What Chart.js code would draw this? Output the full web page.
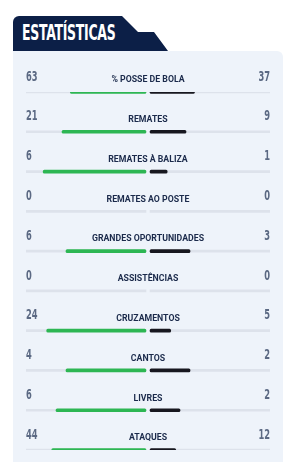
<!DOCTYPE html>
<html lang="pt">
<head>
<meta charset="utf-8">
<title>Estatísticas</title>
<script src="https://cdn.jsdelivr.net/npm/chart.js@4.4.1/dist/chart.umd.min.js"></script>
<style>
  html, body { margin: 0; padding: 0; background: #ffffff; }
  body { width: 289px; height: 462px; position: relative; overflow: hidden; }
  .tab {
    position: absolute; left: 13px; top: 16px; width: 155px; height: 35px;
    background: #0c1f47; border-top-left-radius: 6px;
    clip-path: polygon(0 0, 109px 0, 125px 16px, 141px 16px, 155px 35px, 0 35px);
  }
  .tab span {
    position: absolute; left: 9px; top: 7px;
    color: #ffffff; font-family: "DejaVu Sans Condensed", "DejaVu Sans", sans-serif;
    font-weight: 700; font-size: 21px; letter-spacing: -0.4px; line-height: 1;
    transform-origin: left top; transform: scaleX(0.66); white-space: nowrap;
  }
  .panel {
    position: absolute; left: 13px; top: 51px; width: 270px; height: 411px;
    background: #eef3fa; border-top-right-radius: 6px;
  }
</style>
</head>
<body>
<div class="tab"><span>ESTATÍSTICAS</span></div>
<div class="panel"><canvas id="stats"></canvas></div>
<script>
// dados do jogo
const categories = ['% POSSE DE BOLA', 'REMATES', 'REMATES À BALIZA', 'REMATES AO POSTE',
  'GRANDES OPORTUNIDADES', 'ASSISTÊNCIAS', 'CRUZAMENTOS', 'CANTOS', 'LIVRES', 'ATAQUES'];
const homeValues = [63, 21, 6, 0, 6, 0, 24, 4, 6, 44];
const awayValues = [37, 9, 1, 0, 3, 0, 5, 2, 2, 12];

const GAP = 0.017;
const share = (a, b) => (a + b === 0 ? 0 : a / (a + b));

// barras vazias ficam null para não desenhar nada
const homeBars = homeValues.map((v, i) => v ? [-GAP - share(v, awayValues[i]), -GAP] : null);
const awayBars = awayValues.map((v, i) => v ? [GAP, GAP + share(v, homeValues[i])] : null);

function narrowText(c, txt, x, y, align, sx) {
  c.save();
  c.translate(x, y);
  c.scale(sx, 1);
  c.textAlign = align;
  c.fillText(txt, 0, 0);
  c.restore();
}

// textos por cima de cada linha
const rowLabels = {
  id: 'rowLabels',
  afterDatasetsDraw(chart) {
    const c = chart.ctx;
    const x = chart.scales.x;
    const y = chart.scales.y;
    c.save();
    c.textBaseline = 'middle';
    categories.forEach((cat, i) => {
      const py = y.getPixelForValue(i);
      c.fillStyle = '#5b6983';
      c.font = 'bold 14px "DejaVu Sans Condensed", "DejaVu Sans", sans-serif';
      narrowText(c, String(homeValues[i]), x.getPixelForValue(-1 - GAP), py - 15, 'left', 0.66);
      narrowText(c, String(awayValues[i]), x.getPixelForValue(1 + GAP), py - 15, 'right', 0.66);
      c.fillStyle = '#1b2a4b';
      c.font = 'bold 9.5px Roboto, sans-serif';
      narrowText(c, cat, x.getPixelForValue(0), py - 12, 'center', 0.92);
    });
    c.restore();
  }
};

const ctx = document.getElementById('stats').getContext('2d');
new Chart(ctx, {
  type: 'bar',
  data: {
    labels: categories,
    datasets: [
      { data: homeBars, backgroundColor: '#2db653', barThickness: 3, borderRadius: 2, borderSkipped: false, grouped: false, order: 0 },
      { data: awayBars, backgroundColor: '#17171f', barThickness: 3, borderRadius: 2, borderSkipped: false, grouped: false, order: 0 },
      { data: categories.map(() => [-1 - GAP, -GAP]), backgroundColor: '#dde2eb', barThickness: 2, grouped: false, order: 1 },
      { data: categories.map(() => [GAP, 1 + GAP]), backgroundColor: '#dde2eb', barThickness: 2, grouped: false, order: 1 }
    ]
  },
  options: {
    indexAxis: 'y',
    responsive: true,
    maintainAspectRatio: false,
    animation: false,
    layout: { padding: { left: 13, right: 13, top: 41, bottom: 12 } },
    plugins: { legend: { display: false }, tooltip: { enabled: false } },
    scales: {
      x: { type: 'linear', min: -1 - GAP, max: 1 + GAP, display: false },
      y: { type: 'category', offset: false, display: false }
    }
  },
  plugins: [rowLabels]
});
</script>
</body>
</html>
